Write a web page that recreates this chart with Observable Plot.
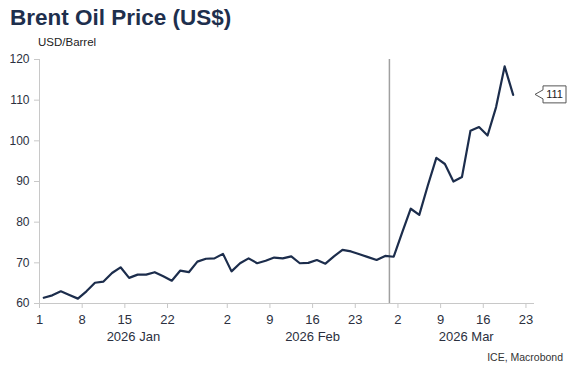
<!DOCTYPE html>
<html><head><meta charset="utf-8">
<script src="https://cdn.jsdelivr.net/npm/d3@7"></script>
<script src="https://cdn.jsdelivr.net/npm/@observablehq/plot@0.6"></script>
<style>
body{margin:0;background:#fff;font-family:"Liberation Sans",Arial,sans-serif;}
#wrap{position:relative;width:577px;height:370px;}
#chart{position:absolute;left:0;top:0;}
#title{position:absolute;left:10px;top:7px;font-size:22.5px;line-height:22px;font-weight:bold;color:#1e2f4d;white-space:nowrap;}
#unit{position:absolute;left:38px;top:37px;font-size:11.5px;line-height:11px;color:#222;white-space:nowrap;}
#source{position:absolute;right:14px;top:352px;font-size:10.5px;line-height:10.5px;color:#333;white-space:nowrap;}
</style></head>
<body>
<div id="wrap"><div id="chart"></div><div id="title">Brent Oil Price (US$)</div><div id="unit">USD/Barrel</div><div id="source">ICE, Macrobond</div></div>
<script>
// Daily Brent prices (trading days from 2 Jan 2026)
const prices = [61.4, 62.0, 63.0, 62.1, 61.2, 63.0, 65.1, 65.4, 67.5, 68.9,
  66.3, 67.1, 67.1, 67.7, 66.7, 65.6, 68.1, 67.7, 70.3, 71.0,
  71.1, 72.2, 67.9, 69.9, 71.1, 69.9, 70.5, 71.3, 71.1, 71.6,
  69.9, 70.0, 70.7, 69.8, 71.6, 73.2, 72.8, 72.1, 71.4, 70.7,
  71.7, 71.5, 77.5, 83.3, 81.8, 89.0, 95.8, 94.3, 90.0, 91.1,
  102.5, 103.4, 101.3, 108.3, 118.3, 111.3];
// trading-day positions of the date ticks and their labels
const tickIndex = [0, 5, 10, 15, 22, 27, 32, 37, 42, 47, 52, 57];
const tickLabels = ["1", "8", "15", "22", "2", "9", "16", "23", "2", "9", "16", "23"];
const monthLabels = ["2026 Jan", "2026 Feb", "2026 Mar"];
const monthStart = [0, 22, 42];
const monthEnd = [22, 42, 58];
const markerIndex = [41];
const yTicks = [60, 70, 80, 90, 100, 110, 120];
const xDomain = [0, 58];
const yDomain = [60, 120];
const lastLabel = "111";

const data = prices.map((v, i) => ({x: i + 0.5, v}));
const monthMid = monthStart.map((s, i) => (s + monthEnd[i]) / 2);

const lineColor = "#1c2d4c";
const textColor = "#2b3040";
const axisColor = "#c8c8c8";

function callout(index, scales, values, dimensions) {
  const x0 = dimensions.width - dimensions.marginRight + 1;
  const y0 = scales.y(prices[prices.length - 1]);
  const g = d3.create("svg:g");
  g.append("path")
    .attr("d", `M${x0},${y0}L${x0 + 8},${y0 - 4.5}V${y0 - 8.5}H${x0 + 31}V${y0 + 8.5}H${x0 + 8}V${y0 + 4.5}Z`)
    .attr("fill", "#fff").attr("stroke", "#555").attr("stroke-width", 1);
  g.append("text")
    .attr("x", x0 + 19.5).attr("y", y0).attr("dy", "0.36em")
    .attr("text-anchor", "middle").attr("font-size", 11).attr("fill", "#222")
    .text(lastLabel);
  return g.node();
}

const chart = Plot.plot({
  width: 577, height: 370,
  marginTop: 59, marginBottom: 67, marginLeft: 39, marginRight: 43,
  style: {fontFamily: '"Liberation Sans", Arial, sans-serif', fontSize: "12px", background: "transparent", overflow: "visible"},
  x: {domain: xDomain},
  y: {domain: yDomain},
  marks: [
    Plot.axisY({ticks: yTicks, tickSize: 5, tickPadding: 5, stroke: axisColor, fill: textColor, label: null}),
    Plot.axisX({ticks: tickIndex, tickFormat: d => tickLabels[tickIndex.indexOf(d)], tickSize: 5, tickPadding: 6, stroke: axisColor, fill: textColor, fontSize: 13, label: null}),
    Plot.axisX({ticks: monthMid, tickFormat: d => monthLabels[monthMid.indexOf(d)], tickSize: 0, tickPadding: 28, fill: textColor, fontSize: 13, label: null}),
    Plot.ruleY([yDomain[0]], {stroke: axisColor}),
    Plot.ruleX([xDomain[0]], {stroke: axisColor}),
    Plot.ruleX(markerIndex, {stroke: "#a0a0a0", strokeWidth: 1.5}),
    Plot.line(data, {x: "x", y: "v", stroke: lineColor, strokeWidth: 2.2}),
    callout
  ]
});
document.getElementById("chart").append(chart);
</script>
</body></html>
